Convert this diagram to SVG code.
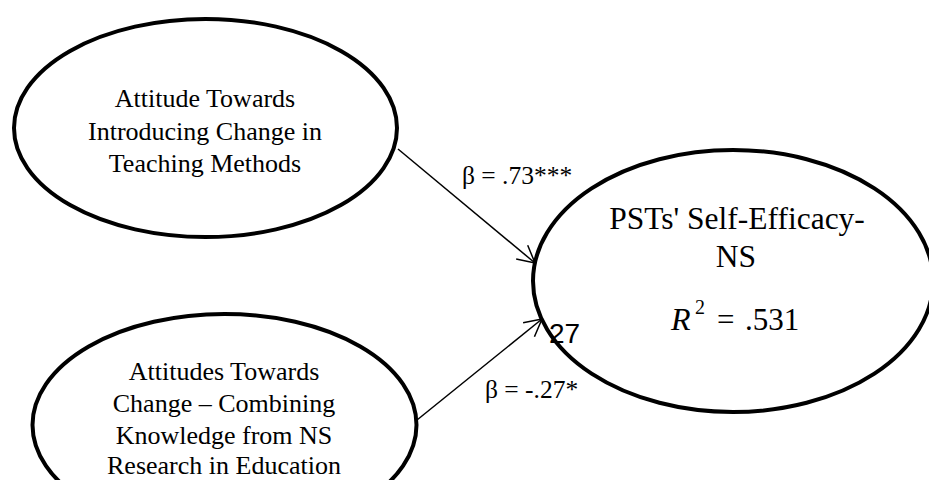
<svg xmlns="http://www.w3.org/2000/svg" width="929" height="480" viewBox="0 0 929 480">
  <style>
    .node ellipse { fill: #fff; stroke: #000; stroke-width: 4; }
    .lbl { font-family: "Liberation Serif", "Times New Roman", serif; fill: #000; text-anchor: middle; }
    .small { font-size: 26px; }
    .big { font-size: 31.5px; }
    .serif { font-family: "Liberation Serif", "Times New Roman", serif; fill: #000; }
    .coef { font-family: "Liberation Serif", "Times New Roman", serif; font-size: 25.5px; fill: #000; }
    .conn line { stroke: #000; stroke-width: 1.5; fill: none; }
  </style>
  <defs>
    <marker id="arr" markerUnits="userSpaceOnUse" markerWidth="40" markerHeight="40" refX="0" refY="0" orient="auto" overflow="visible">
      <path d="M-17,-9 L0,0 L-17,9" fill="none" stroke="#000" stroke-width="1.5"/>
    </marker>
  </defs>
  <rect width="929" height="480" fill="#fff"/>

  <g id="node-attitude-teaching" class="node">
    <ellipse cx="205.5" cy="128" rx="191.5" ry="109"/>
    <text class="lbl small" x="205" y="107">Attitude Towards</text>
    <text class="lbl small" x="205" y="139.5">Introducing Change in</text>
    <text class="lbl small" x="205" y="172">Teaching Methods</text>
  </g>

  <g id="node-attitude-combining" class="node">
    <ellipse cx="224.5" cy="425" rx="192" ry="111"/>
    <text class="lbl small" x="224" y="380">Attitudes Towards</text>
    <text class="lbl small" x="224" y="412">Change – Combining</text>
    <text class="lbl small" x="224" y="444">Knowledge from NS</text>
    <text class="lbl small" x="224" y="474">Research in Education</text>
  </g>

  <g id="node-self-efficacy" class="node">
    <ellipse cx="733" cy="281" rx="200" ry="131"/>
    <text class="lbl big" x="737" y="229">PSTs' Self-Efficacy-</text>
    <text class="lbl big" x="736" y="267">NS</text>
    <text class="serif" font-size="32" font-style="italic" x="671" y="330">R</text>
    <text class="serif" font-size="20" x="695" y="314">2</text>
    <text class="serif" font-size="31" x="717" y="330">=</text>
    <text class="serif" font-size="31" x="745" y="330">.531</text>
  </g>

  <g id="connectors" class="conn">
    <line x1="398" y1="149" x2="535" y2="263" marker-end="url(#arr)"/>
    <line x1="417" y1="420" x2="542" y2="319" marker-end="url(#arr)"/>
    <text class="coef" x="462" y="184">β = .73***</text>
    <text class="coef" x="485" y="398">β = -.27*</text>
  </g>

  <text x="549" y="343" font-family="'Liberation Sans', Arial, sans-serif" font-size="28" fill="#000">27</text>
</svg>
